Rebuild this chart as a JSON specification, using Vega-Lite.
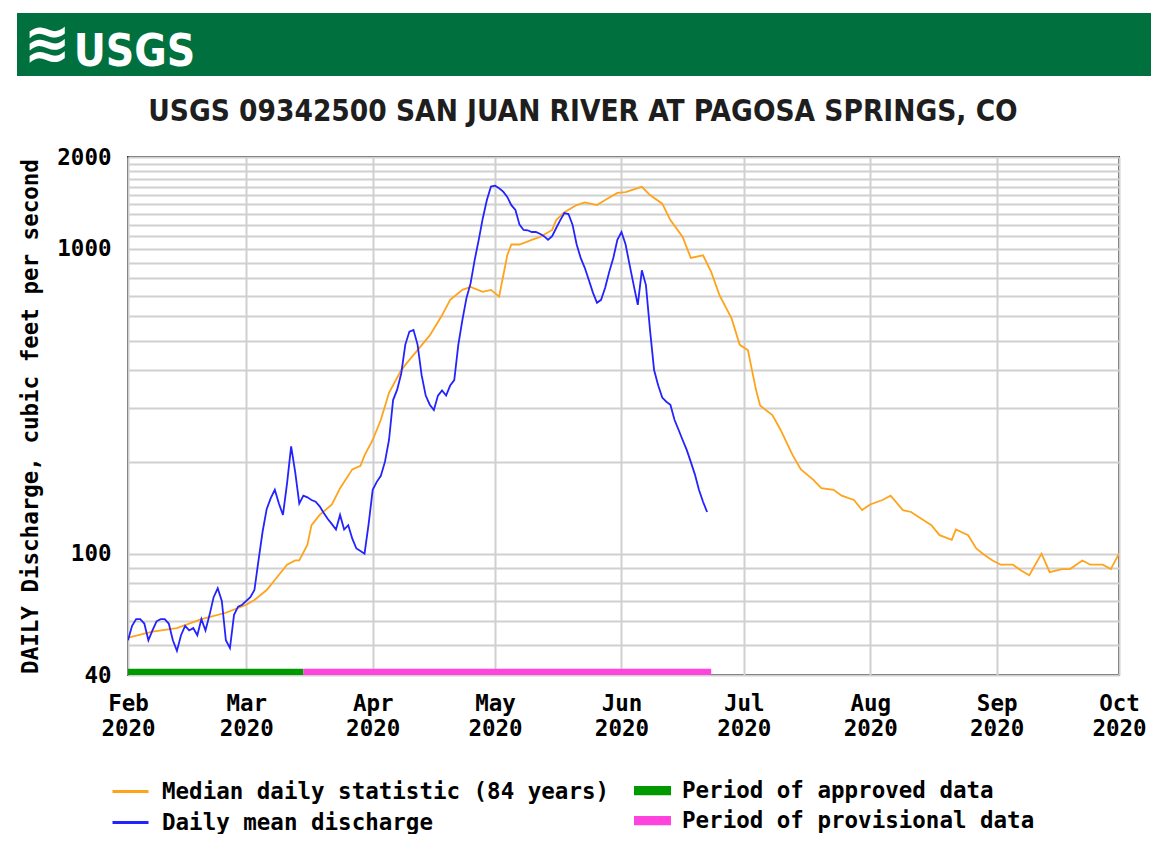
{
  "$schema": "https://vega.github.io/schema/vega-lite/v6.json",
  "background": "white",
  "padding": {"left": 17, "top": 13, "right": 0, "bottom": 0},
  "spacing": 19,
  "config": {"font": "DejaVu Sans Mono", "view": {"stroke": null}},
  "datasets": {
    "median": [
      {"date": "2020-02-01", "cfs": 53}, {"date": "2020-02-07", "cfs": 55.5}, {"date": "2020-02-13", "cfs": 57},
      {"date": "2020-02-19", "cfs": 61}, {"date": "2020-02-25", "cfs": 64}, {"date": "2020-03-01", "cfs": 68},
      {"date": "2020-03-03", "cfs": 70.5}, {"date": "2020-03-06", "cfs": 76}, {"date": "2020-03-08", "cfs": 82},
      {"date": "2020-03-11", "cfs": 92}, {"date": "2020-03-13", "cfs": 95}, {"date": "2020-03-14", "cfs": 95},
      {"date": "2020-03-16", "cfs": 107}, {"date": "2020-03-17", "cfs": 124}, {"date": "2020-03-19", "cfs": 134},
      {"date": "2020-03-22", "cfs": 145}, {"date": "2020-03-24", "cfs": 164}, {"date": "2020-03-27", "cfs": 189},
      {"date": "2020-03-29", "cfs": 194}, {"date": "2020-03-30", "cfs": 210}, {"date": "2020-04-01", "cfs": 236},
      {"date": "2020-04-03", "cfs": 275}, {"date": "2020-04-05", "cfs": 337}, {"date": "2020-04-08", "cfs": 400},
      {"date": "2020-04-10", "cfs": 432}, {"date": "2020-04-12", "cfs": 465}, {"date": "2020-04-15", "cfs": 520},
      {"date": "2020-04-18", "cfs": 605}, {"date": "2020-04-20", "cfs": 680}, {"date": "2020-04-23", "cfs": 733},
      {"date": "2020-04-25", "cfs": 750}, {"date": "2020-04-28", "cfs": 722}, {"date": "2020-04-30", "cfs": 733},
      {"date": "2020-05-02", "cfs": 697}, {"date": "2020-05-04", "cfs": 952}, {"date": "2020-05-05", "cfs": 1033},
      {"date": "2020-05-07", "cfs": 1033}, {"date": "2020-05-10", "cfs": 1070}, {"date": "2020-05-12", "cfs": 1093},
      {"date": "2020-05-15", "cfs": 1153}, {"date": "2020-05-16", "cfs": 1242}, {"date": "2020-05-18", "cfs": 1318},
      {"date": "2020-05-21", "cfs": 1391}, {"date": "2020-05-23", "cfs": 1420}, {"date": "2020-05-26", "cfs": 1391},
      {"date": "2020-05-28", "cfs": 1445}, {"date": "2020-05-31", "cfs": 1525}, {"date": "2020-06-02", "cfs": 1535},
      {"date": "2020-06-05", "cfs": 1581}, {"date": "2020-06-06", "cfs": 1597}, {"date": "2020-06-08", "cfs": 1500},
      {"date": "2020-06-11", "cfs": 1406}, {"date": "2020-06-13", "cfs": 1242}, {"date": "2020-06-16", "cfs": 1093},
      {"date": "2020-06-18", "cfs": 933}, {"date": "2020-06-21", "cfs": 952}, {"date": "2020-06-23", "cfs": 840},
      {"date": "2020-06-25", "cfs": 706}, {"date": "2020-06-28", "cfs": 591}, {"date": "2020-06-30", "cfs": 484},
      {"date": "2020-07-02", "cfs": 465}, {"date": "2020-07-04", "cfs": 344}, {"date": "2020-07-05", "cfs": 306},
      {"date": "2020-07-08", "cfs": 285}, {"date": "2020-07-10", "cfs": 255}, {"date": "2020-07-13", "cfs": 210},
      {"date": "2020-07-15", "cfs": 189}, {"date": "2020-07-18", "cfs": 175}, {"date": "2020-07-20", "cfs": 164},
      {"date": "2020-07-23", "cfs": 162}, {"date": "2020-07-25", "cfs": 155}, {"date": "2020-07-28", "cfs": 150},
      {"date": "2020-07-30", "cfs": 139}, {"date": "2020-08-01", "cfs": 145}, {"date": "2020-08-04", "cfs": 150},
      {"date": "2020-08-06", "cfs": 155}, {"date": "2020-08-09", "cfs": 139}, {"date": "2020-08-11", "cfs": 137},
      {"date": "2020-08-14", "cfs": 129}, {"date": "2020-08-16", "cfs": 124}, {"date": "2020-08-18", "cfs": 115},
      {"date": "2020-08-21", "cfs": 111}, {"date": "2020-08-22", "cfs": 120}, {"date": "2020-08-25", "cfs": 115},
      {"date": "2020-08-27", "cfs": 104}, {"date": "2020-08-29", "cfs": 99}, {"date": "2020-08-31", "cfs": 95},
      {"date": "2020-09-02", "cfs": 92}, {"date": "2020-09-05", "cfs": 92}, {"date": "2020-09-07", "cfs": 88},
      {"date": "2020-09-09", "cfs": 85}, {"date": "2020-09-12", "cfs": 100}, {"date": "2020-09-14", "cfs": 87},
      {"date": "2020-09-17", "cfs": 89}, {"date": "2020-09-19", "cfs": 89}, {"date": "2020-09-22", "cfs": 95},
      {"date": "2020-09-24", "cfs": 92}, {"date": "2020-09-27", "cfs": 92}, {"date": "2020-09-29", "cfs": 89},
      {"date": "2020-10-01", "cfs": 100}
    ],
    "mean": [
      {"date": "2020-02-01", "cfs": 52}, {"date": "2020-02-02", "cfs": 58}, {"date": "2020-02-03", "cfs": 61},
      {"date": "2020-02-04", "cfs": 61}, {"date": "2020-02-05", "cfs": 59}, {"date": "2020-02-06", "cfs": 52},
      {"date": "2020-02-07", "cfs": 56}, {"date": "2020-02-08", "cfs": 60}, {"date": "2020-02-09", "cfs": 61},
      {"date": "2020-02-10", "cfs": 61}, {"date": "2020-02-11", "cfs": 59}, {"date": "2020-02-12", "cfs": 52},
      {"date": "2020-02-13", "cfs": 48}, {"date": "2020-02-14", "cfs": 54}, {"date": "2020-02-15", "cfs": 58},
      {"date": "2020-02-16", "cfs": 56}, {"date": "2020-02-17", "cfs": 57}, {"date": "2020-02-18", "cfs": 54},
      {"date": "2020-02-19", "cfs": 61}, {"date": "2020-02-20", "cfs": 56}, {"date": "2020-02-21", "cfs": 63},
      {"date": "2020-02-22", "cfs": 72}, {"date": "2020-02-23", "cfs": 77}, {"date": "2020-02-24", "cfs": 70},
      {"date": "2020-02-25", "cfs": 52}, {"date": "2020-02-26", "cfs": 49}, {"date": "2020-02-27", "cfs": 63},
      {"date": "2020-02-28", "cfs": 67}, {"date": "2020-02-29", "cfs": 68}, {"date": "2020-03-01", "cfs": 70},
      {"date": "2020-03-02", "cfs": 72}, {"date": "2020-03-03", "cfs": 76}, {"date": "2020-03-04", "cfs": 95},
      {"date": "2020-03-05", "cfs": 118}, {"date": "2020-03-06", "cfs": 140}, {"date": "2020-03-07", "cfs": 152},
      {"date": "2020-03-08", "cfs": 162}, {"date": "2020-03-09", "cfs": 146}, {"date": "2020-03-10", "cfs": 134},
      {"date": "2020-03-11", "cfs": 170}, {"date": "2020-03-12", "cfs": 225}, {"date": "2020-03-13", "cfs": 185},
      {"date": "2020-03-14", "cfs": 146}, {"date": "2020-03-15", "cfs": 155}, {"date": "2020-03-16", "cfs": 153},
      {"date": "2020-03-17", "cfs": 150}, {"date": "2020-03-18", "cfs": 148}, {"date": "2020-03-19", "cfs": 143},
      {"date": "2020-03-20", "cfs": 136}, {"date": "2020-03-21", "cfs": 130}, {"date": "2020-03-22", "cfs": 125},
      {"date": "2020-03-23", "cfs": 120}, {"date": "2020-03-24", "cfs": 134}, {"date": "2020-03-25", "cfs": 120},
      {"date": "2020-03-26", "cfs": 124}, {"date": "2020-03-27", "cfs": 112}, {"date": "2020-03-28", "cfs": 104},
      {"date": "2020-03-29", "cfs": 102}, {"date": "2020-03-30", "cfs": 100}, {"date": "2020-03-31", "cfs": 125},
      {"date": "2020-04-01", "cfs": 162}, {"date": "2020-04-02", "cfs": 172}, {"date": "2020-04-03", "cfs": 180},
      {"date": "2020-04-04", "cfs": 200}, {"date": "2020-04-05", "cfs": 236}, {"date": "2020-04-06", "cfs": 319},
      {"date": "2020-04-07", "cfs": 345}, {"date": "2020-04-08", "cfs": 390}, {"date": "2020-04-09", "cfs": 485},
      {"date": "2020-04-10", "cfs": 535}, {"date": "2020-04-11", "cfs": 542}, {"date": "2020-04-12", "cfs": 485},
      {"date": "2020-04-13", "cfs": 385}, {"date": "2020-04-14", "cfs": 330}, {"date": "2020-04-15", "cfs": 308},
      {"date": "2020-04-16", "cfs": 296}, {"date": "2020-04-17", "cfs": 330}, {"date": "2020-04-18", "cfs": 343},
      {"date": "2020-04-19", "cfs": 330}, {"date": "2020-04-20", "cfs": 356}, {"date": "2020-04-21", "cfs": 371},
      {"date": "2020-04-22", "cfs": 485}, {"date": "2020-04-23", "cfs": 585}, {"date": "2020-04-24", "cfs": 690},
      {"date": "2020-04-25", "cfs": 770}, {"date": "2020-04-26", "cfs": 918}, {"date": "2020-04-27", "cfs": 1070},
      {"date": "2020-04-28", "cfs": 1260}, {"date": "2020-04-29", "cfs": 1445}, {"date": "2020-04-30", "cfs": 1600},
      {"date": "2020-05-01", "cfs": 1610}, {"date": "2020-05-02", "cfs": 1580}, {"date": "2020-05-03", "cfs": 1540},
      {"date": "2020-05-04", "cfs": 1480}, {"date": "2020-05-05", "cfs": 1390}, {"date": "2020-05-06", "cfs": 1340},
      {"date": "2020-05-07", "cfs": 1200}, {"date": "2020-05-08", "cfs": 1153}, {"date": "2020-05-09", "cfs": 1150},
      {"date": "2020-05-10", "cfs": 1135}, {"date": "2020-05-11", "cfs": 1135}, {"date": "2020-05-12", "cfs": 1120},
      {"date": "2020-05-13", "cfs": 1100}, {"date": "2020-05-14", "cfs": 1070}, {"date": "2020-05-15", "cfs": 1100},
      {"date": "2020-05-16", "cfs": 1170}, {"date": "2020-05-17", "cfs": 1242}, {"date": "2020-05-18", "cfs": 1310},
      {"date": "2020-05-19", "cfs": 1300}, {"date": "2020-05-20", "cfs": 1200}, {"date": "2020-05-21", "cfs": 1035},
      {"date": "2020-05-22", "cfs": 933}, {"date": "2020-05-23", "cfs": 866}, {"date": "2020-05-24", "cfs": 790},
      {"date": "2020-05-25", "cfs": 718}, {"date": "2020-05-26", "cfs": 665}, {"date": "2020-05-27", "cfs": 680},
      {"date": "2020-05-28", "cfs": 745}, {"date": "2020-05-29", "cfs": 840}, {"date": "2020-05-30", "cfs": 933},
      {"date": "2020-05-31", "cfs": 1070}, {"date": "2020-06-01", "cfs": 1135}, {"date": "2020-06-02", "cfs": 1035},
      {"date": "2020-06-03", "cfs": 886}, {"date": "2020-06-04", "cfs": 760}, {"date": "2020-06-05", "cfs": 655},
      {"date": "2020-06-06", "cfs": 850}, {"date": "2020-06-07", "cfs": 760}, {"date": "2020-06-08", "cfs": 542},
      {"date": "2020-06-09", "cfs": 400}, {"date": "2020-06-10", "cfs": 357}, {"date": "2020-06-11", "cfs": 325},
      {"date": "2020-06-12", "cfs": 315}, {"date": "2020-06-13", "cfs": 308}, {"date": "2020-06-14", "cfs": 275},
      {"date": "2020-06-15", "cfs": 255}, {"date": "2020-06-16", "cfs": 236}, {"date": "2020-06-17", "cfs": 219},
      {"date": "2020-06-18", "cfs": 200}, {"date": "2020-06-19", "cfs": 182}, {"date": "2020-06-20", "cfs": 162},
      {"date": "2020-06-21", "cfs": 148}, {"date": "2020-06-22", "cfs": 137}
    ],
    "periods": [
      {"period": "Period of approved data", "start": "2020-02-01", "end": "2020-03-15"},
      {"period": "Period of provisional data", "start": "2020-03-15", "end": "2020-06-23"}
    ]
  },
  "vconcat": [
    {
      "width": 1134,
      "height": 63,
      "view": {"fill": "#00703F", "stroke": null},
      "layer": [
        {
          "data": {"values": [{"t": "≋"}]},
          "mark": {"type": "text", "align": "left", "baseline": "middle", "fontSize": 56, "color": "white", "font": "DejaVu Sans", "fontWeight": "bold"},
          "encoding": {
            "x": {"datum": 0.006, "type": "quantitative", "scale": {"domain": [0, 1]}, "axis": null},
            "y": {"datum": 0.5, "type": "quantitative", "scale": {"domain": [0, 1]}, "axis": null},
            "text": {"field": "t"}
          }
        },
        {
          "data": {"values": [{"t": "USGS"}]},
          "mark": {"type": "text", "align": "left", "baseline": "alphabetic", "fontSize": 44, "color": "white", "font": "DejaVu Sans Condensed, Liberation Sans", "fontWeight": "bold"},
          "encoding": {
            "x": {"datum": 0.05, "type": "quantitative", "scale": {"domain": [0, 1]}, "axis": null},
            "y": {"datum": 0.16, "type": "quantitative", "scale": {"domain": [0, 1]}, "axis": null},
            "text": {"field": "t"}
          }
        }
      ]
    },
    {
      "spacing": 0,
      "hconcat": [
        {
          "width": 1,
          "height": 1,
          "view": {"stroke": null},
          "data": {"values": [{"t": ""}]},
          "mark": {"type": "text"},
          "encoding": {"text": {"field": "t"}}
        },
        {
          "width": 991,
          "height": 518,
          "view": {"stroke": "#3a3a3a", "strokeWidth": 2, "fill": "white"},
          "title": {
            "text": "USGS 09342500 SAN JUAN RIVER AT PAGOSA SPRINGS, CO",
            "font": "DejaVu Sans Condensed, Liberation Sans",
            "fontSize": 29.5,
            "fontWeight": "bold",
            "color": "#1e1e1e",
            "anchor": "middle",
            "frame": "bounds",
            "offset": 19
          },
          "layer": [
            {
              "data": {"name": "median"},
              "mark": {"type": "line", "strokeWidth": 1.8, "clip": true},
              "encoding": {
                "x": {
                  "field": "date",
                  "type": "temporal",
                  "scale": {"type": "utc", "nice": false, "domain": [{"year": 2020, "month": 2, "date": 1, "utc": true}, {"year": 2020, "month": 10, "date": 1, "utc": true}]},
                  "axis": {
                    "title": null,
                    "values": [
                      {"year": 2020, "month": 2, "date": 1, "utc": true},
                      {"year": 2020, "month": 3, "date": 1, "utc": true},
                      {"year": 2020, "month": 4, "date": 1, "utc": true},
                      {"year": 2020, "month": 5, "date": 1, "utc": true},
                      {"year": 2020, "month": 6, "date": 1, "utc": true},
                      {"year": 2020, "month": 7, "date": 1, "utc": true},
                      {"year": 2020, "month": 8, "date": 1, "utc": true},
                      {"year": 2020, "month": 9, "date": 1, "utc": true},
                      {"year": 2020, "month": 10, "date": 1, "utc": true}
                    ],
                    "labelExpr": "[utcFormat(datum.value, '%b'), utcFormat(datum.value, '%Y')]",
                    "labelFont": "DejaVu Sans Mono",
                    "labelFontWeight": "bold",
                    "labelFontSize": 22.5,
                    "labelColor": "black",
                    "labelLineHeight": 25,
                    "labelAngle": 0,
                    "labelPadding": 17,
                    "labelFlush": false,
                    "labelOverlap": false,
                    "labelBound": false,
                    "ticks": false,
                    "domain": false,
                    "grid": true,
                    "gridColor": "#d0d0d0",
                    "gridWidth": 2
                  }
                },
                "y": {
                  "field": "cfs",
                  "type": "quantitative",
                  "scale": {"type": "log", "domain": [40, 2000], "nice": false},
                  "axis": {
                    "title": "DAILY Discharge, cubic feet per second",
                    "values": [40, 50, 60, 70, 80, 90, 100, 200, 300, 400, 500, 600, 700, 800, 900, 1000, 1100, 1200, 1300, 1400, 1500, 1600, 1700, 1800, 1900, 2000],
                    "format": "d",
                    "labelExpr": "(datum.value == 40 || datum.value == 100 || datum.value == 1000 || datum.value == 2000) ? datum.label : ''",
                    "labelFont": "DejaVu Sans Mono",
                    "labelFontWeight": "bold",
                    "labelFontSize": 22.5,
                    "labelColor": "black",
                    "labelPadding": 17,
                    "labelOverlap": false,
                    "labelBound": false,
                    "titleFont": "DejaVu Sans Mono",
                    "titleFontWeight": "bold",
                    "titleFontSize": 22.5,
                    "titleColor": "black",
                    "titlePadding": 14,
                    "ticks": false,
                    "domain": false,
                    "grid": true,
                    "gridColor": "#d0d0d0",
                    "gridWidth": 2
                  }
                },
                "stroke": {
                  "datum": "Median daily statistic (84 years)",
                  "scale": {"domain": ["Median daily statistic (84 years)", "Daily mean discharge"], "range": ["#FFA31A", "#2323FF"]},
                  "legend": {
                    "title": null,
                    "orient": "none",
                    "legendX": 94,
                    "legendY": 759,
                    "symbolType": "stroke",
                    "symbolSize": 1296,
                    "symbolStrokeWidth": 3,
                    "labelFont": "DejaVu Sans Mono",
                    "labelFontWeight": "bold",
                    "labelFontSize": 22.5,
                    "labelColor": "black",
                    "labelOffset": 12,
                    "rowPadding": -4.5,
                    "labelLimit": 600
                  }
                }
              }
            },
            {
              "data": {"name": "mean"},
              "mark": {"type": "line", "strokeWidth": 1.8, "clip": true},
              "encoding": {
                "x": {"field": "date", "type": "temporal"},
                "y": {"field": "cfs", "type": "quantitative"},
                "stroke": {"datum": "Daily mean discharge"}
              }
            },
            {
              "data": {"name": "periods"},
              "mark": {"type": "rect"},
              "encoding": {
                "x": {"field": "start", "type": "temporal"},
                "x2": {"field": "end"},
                "y": {"datum": 40, "type": "quantitative"},
                "y2": {"datum": 41.9},
                "fill": {
                  "field": "period",
                  "type": "nominal",
                  "scale": {"domain": ["Period of approved data", "Period of provisional data"], "range": ["#009A00", "#FF44DD"]},
                  "legend": {
                    "title": null,
                    "orient": "none",
                    "legendX": 617,
                    "legendY": 759,
                    "symbolType": "M-1,-0.25H1V0.25H-1Z",
                    "symbolSize": 1369,
                    "symbolStrokeWidth": 0,
                    "labelFont": "DejaVu Sans Mono",
                    "labelFontWeight": "bold",
                    "labelFontSize": 22.5,
                    "labelColor": "black",
                    "labelOffset": 11,
                    "rowPadding": -4.5,
                    "labelLimit": 600
                  }
                }
              }
            }
          ]
        }
      ]
    }
  ]
}
